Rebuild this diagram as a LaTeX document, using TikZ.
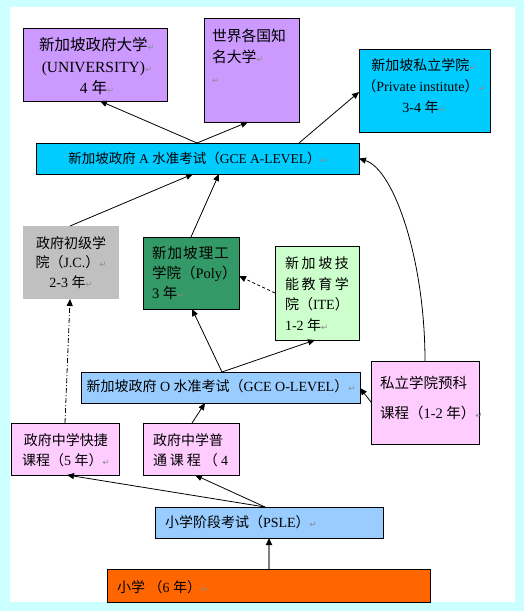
\documentclass[tikz,border=0pt]{standalone}
\usepackage{fontspec}
\setmainfont{Liberation Serif}
\newfontfamily\zhf{Noto Sans CJK SC}
\newfontfamily\dvf{DejaVu Sans}
\usetikzlibrary{arrows.meta,calc}
\definecolor{bgcyan}{HTML}{CCFFFF}
\definecolor{purp}{HTML}{CC99FF}
\definecolor{skyc}{HTML}{00CCFF}
\definecolor{jcgray}{HTML}{C0C0C0}
\definecolor{polyg}{HTML}{339966}
\definecolor{iteg}{HTML}{CCFFCC}
\definecolor{lblue}{HTML}{99CCFF}
\definecolor{pinkc}{HTML}{FFCCFF}
\definecolor{orng}{HTML}{FF6600}
\definecolor{rmkgray}{HTML}{8C8C8C}
\definecolor{lgray}{HTML}{808080}
\newcommand\zh[1]{{\zhf #1}}
\newcommand\rmk{{\dvf\color{rmkgray}\fontsize{8.5}{8.5}\selectfont ↵}}
\newcommand\fs[2]{\fontsize{#1}{#2}\selectfont}
\begin{document}
\begin{tikzpicture}[x=1pt,y=-1pt,
  bx/.style={draw=black,line width=0.8pt,anchor=north west,inner sep=0pt,outer sep=0pt},
  txt/.style={inner sep=0pt,outer sep=0pt,text=black},
  arr/.style={line width=0.8pt,-{Triangle[length=7pt,width=6pt]}},
]
\useasboundingbox (0,0) rectangle (524,611);
\fill[bgcyan] (0,0) rectangle (524,611);
\fill[white] (10,7) rectangle (515,602);

% boxes
\node[bx,fill=purp,minimum width=144pt,minimum height=73pt] (uni) at (23,28) {};
\node[bx,fill=purp,minimum width=95pt,minimum height=104pt] (world) at (204,18) {};
\node[bx,fill=skyc,minimum width=131pt,minimum height=83pt] (priv) at (359,49) {};
\node[bx,fill=skyc,minimum width=323pt,minimum height=31pt] (alev) at (36,143) {};
\node[bx,draw=none,fill=jcgray,minimum width=96pt,minimum height=73pt] (jc) at (23,226) {};
\node[bx,fill=polyg,minimum width=96pt,minimum height=72pt] (poly) at (143,237) {};
\node[bx,fill=iteg,minimum width=84pt,minimum height=94pt] (ite) at (275,246) {};
\node[bx,fill=lblue,minimum width=279pt,minimum height=31pt] (olev) at (81,372) {};
\node[bx,fill=pinkc,minimum width=108pt,minimum height=83pt] (yuke) at (371,361) {};
\node[bx,fill=pinkc,minimum width=108pt,minimum height=52pt] (kj) at (11,423) {};
\node[bx,fill=pinkc,minimum width=96pt,minimum height=52pt] (ptg) at (143,423) {};
\node[bx,fill=lblue,minimum width=228pt,minimum height=31pt] (psle) at (155,507) {};
\node[bx,fill=orng,minimum width=323pt,minimum height=33pt] (xx) at (107,569) {};

% connectors
\draw[arr] ([xshift=161pt]alev.north west) -- ([xshift=77pt]uni.south west);
\draw[arr] ([xshift=161pt]alev.north west) -- ([xshift=44pt]world.south west);
\draw[arr] ([xshift=263pt]alev.north west) -- ([yshift=-43pt]priv.north west);
\draw[arr] ([xshift=47pt]jc.north west) -- ([xshift=157pt]alev.south west);
\draw[arr] ([xshift=48pt]poly.north west) -- ([xshift=183pt]alev.south west);
\draw[arr] ([xshift=54pt]yuke.north west) .. controls +(0,-101) and +(35,11) .. (alev.east);
\draw[arr,dash pattern=on 3pt off 2.5pt] ([yshift=-47pt]ite.north west) -- ([yshift=-39pt]poly.north east);
\draw[arr,dash pattern=on 5pt off 2pt on 1pt off 2pt] ([xshift=54pt]kj.north west) -- ([xshift=47pt]jc.south west);
\draw[arr] ([xshift=141pt]olev.north west) -- ([xshift=49pt]poly.south west);
\draw[arr] ([xshift=141pt]olev.north west) -- ([xshift=40pt]ite.south west);
\draw[arr] ([yshift=-41pt]yuke.north west) -- ([yshift=-16pt]olev.north east);
\draw[arr] ([xshift=49pt]ptg.north west) -- ([xshift=124pt]olev.south west);
\draw[arr] ([xshift=110pt]psle.north west) -- ([xshift=56pt]kj.south west);
\draw[arr] ([xshift=110pt]psle.north west) -- ([xshift=52pt]ptg.south west);
\draw[line width=1.6pt,draw=lgray,-{Triangle[length=7pt,width=6pt,color=black]}] ([xshift=162pt]xx.north west) -- ([xshift=114pt]psle.south west);

% texts
\node[txt,align=center,font=\fs{15.5}{21.5}] (uniT) at (97,66.5)
  {\zh{新加坡政府大学}\rmk\\(UNIVERSITY)\rmk\\4 \zh{年}\rmk};
\node[txt,align=left,anchor=west,font=\fs{14.8}{21}] (worldT) at (212,56)
  {\zh{世界各国知}\\\zh{名大学}\rmk\\\rmk};
\node[txt,align=center,font=\fs{14}{21}] (privT) at (424,86)
  {\zh{新加坡私立学院}\rmk\\\zh{（}Private institute\zh{）}\rmk\\3-4 \zh{年}\rmk};
\node[txt,font=\fs{13.5}{16}] (alevT) at (198,158)
  {\zh{新加坡政府} A \zh{水准考试（}GCE A-LEVEL\zh{）}\rmk};
\node[txt,align=center,font=\fs{14}{19.5}] (jcT) at (71,262.5)
  {\zh{政府初级学}\\\zh{院（}J.C.\zh{）}\rmk\\2-3 \zh{年}\rmk};
\node[txt,align=left,anchor=west,font=\fs{14.5}{20}] (polyT) at (152,273)
  {\makebox[77pt][s]{\zh{新}\hfil\zh{加}\hfil\zh{坡}\hfil\zh{理}\hfil\zh{工}}\\\zh{学院（}Poly\zh{）}\\3 \zh{年}\rmk};
\node[txt,align=left,anchor=west,font=\fs{14}{20.7}] (iteT) at (285,294)
  {\makebox[64pt][s]{\zh{新}\hfil\zh{加}\hfil\zh{坡}\hfil\zh{技}}\\\makebox[64pt][s]{\zh{能}\hfil\zh{教}\hfil\zh{育}\hfil\zh{学}}\\\zh{院（}ITE\zh{）}\\1-2 \zh{年}\rmk};
\node[txt,font=\fs{14}{16}] (olevT) at (221,386)
  {\zh{新加坡政府} O \zh{水准考试（}GCE O-LEVEL\zh{）}\rmk};
\node[txt,align=left,anchor=west,font=\fs{14.5}{30}] (yukeT) at (380,398)
  {\zh{私立学院预科}\\\zh{课程（}1-2 \zh{年）}\rmk};
\node[txt,align=center,font=\fs{14}{20}] (kjT) at (66,450)
  {\zh{政府中学快捷}\\\zh{课程（}5 \zh{年）}\rmk};
\node[txt,align=left,anchor=west,font=\fs{14}{20}] (ptT) at (153,450)
  {\zh{政府中学普}\\\makebox[75pt][s]{\zh{通}\hfil\zh{课}\hfil\zh{程}\hfil\zh{（}\hfil 4}};
\node[txt,anchor=west,font=\fs{14}{16}] (psleT) at (165,522.5)
  {\zh{小学阶段考试（}PSLE\zh{）}\rmk};
\node[txt,anchor=west,font=\fs{14}{16}] (xxT) at (117,587)
  {\zh{小学} \zh{（}6 \zh{年）}\rmk};
\end{tikzpicture}
\end{document}
